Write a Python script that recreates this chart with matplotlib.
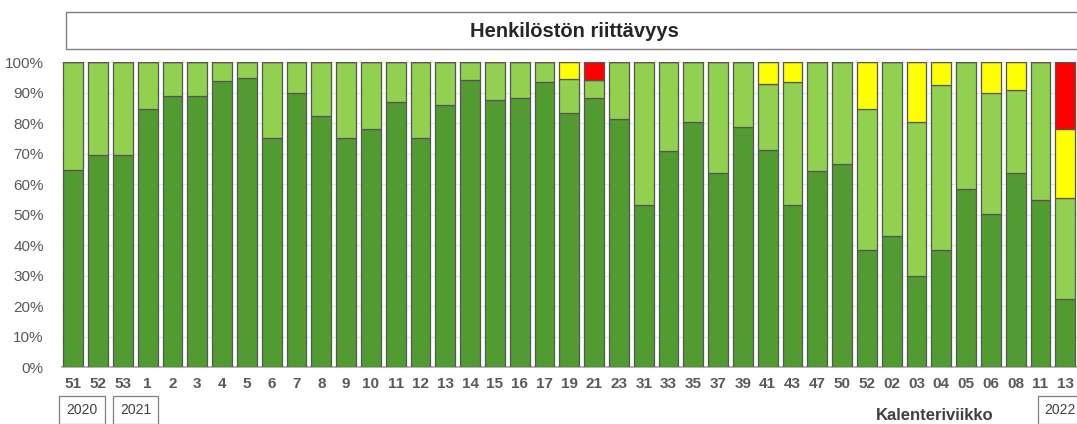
import matplotlib.pyplot as plt
from matplotlib.patches import Rectangle

weeks = ["51", "52", "53", "1", "2", "3", "4", "5", "6", "7", "8", "9", "10", "11",
         "12", "13", "14", "15", "16", "17", "19", "21", "23", "31", "33", "35", "37",
         "39", "41", "43", "47", "50", "52", "02", "03", "04", "05", "06", "08", "11", "13"]

# share of units (%), four staffing levels
enough = [64.7, 69.5, 69.5, 84.6, 89.1, 89.1, 94.0, 94.8, 75.2, 89.9, 82.5, 75.2, 78.1, 87.1,
          75.2, 86.0, 94.2, 87.6, 88.5, 93.6, 83.4, 88.4, 81.6, 53.3, 70.8, 80.4, 63.7,
          78.7, 71.4, 53.3, 64.4, 66.7, 38.4, 42.9, 29.8, 38.4, 58.4, 50.2, 63.8, 54.7, 22.4]
mostly = [35.3, 30.5, 30.5, 15.4, 10.9, 10.9, 6.0, 5.2, 24.8, 10.1, 17.5, 24.8, 21.9, 12.9,
          24.8, 14.0, 5.8, 12.4, 11.5, 6.4, 11.1, 5.8, 18.4, 46.7, 29.2, 19.6, 36.3,
          21.3, 21.6, 40.3, 35.6, 33.3, 46.2, 57.1, 50.6, 54.3, 41.6, 39.9, 27.2, 45.3, 33.0]
partly = [0, 0, 0, 0, 0, 0, 0, 0, 0, 0, 0, 0, 0, 0,
          0, 0, 0, 0, 0, 0, 5.5, 0, 0, 0, 0, 0, 0,
          0, 7.0, 6.4, 0, 0, 15.4, 0, 19.6, 7.3, 0, 9.9, 9.0, 0, 22.6]
lacking = [0, 0, 0, 0, 0, 0, 0, 0, 0, 0, 0, 0, 0, 0,
           0, 0, 0, 0, 0, 0, 0, 5.8, 0, 0, 0, 0, 0,
           0, 0, 0, 0, 0, 0, 0, 0, 0, 0, 0, 0, 0, 22.0]

years = ["2020", "2021", "2022"]
year_pos = [0.35, 2.5, 39.8]

colors = ["#519B30", "#92D050", "#FFFF00", "#FF0000"]
series = [enough, mostly, partly, lacking]

fig = plt.figure(figsize=(10.77, 4.24), dpi=100)
ax = fig.add_axes([0.0575, 0.1344, 0.9425, 0.7182])

x = list(range(len(weeks)))
bottom = [0.0] * len(weeks)
for vals, c in zip(series, colors):
    v = [a / 100 for a in vals]
    ax.bar(x, v, bottom=bottom, width=0.8, color=c, edgecolor="#555555",
           linewidth=0.9, zorder=3)
    bottom = [b + a for b, a in zip(bottom, v)]

ax.set_xlim(-0.46, len(weeks) - 0.53)
ax.set_ylim(0, 1.0)
ax.set_yticks([i / 10 for i in range(11)])
ax.set_yticklabels([f"{i * 10}%" for i in range(11)], fontsize=11,
                   color="#595959", family="Liberation Sans")
ax.set_xticks(x)
ax.set_xticklabels(weeks, fontsize=11, fontweight="bold", color="#595959",
                   family="Liberation Sans")
ax.tick_params(length=0, pad=7)
ax.tick_params(axis="y", pad=13)
ax.grid(axis="y", color="#e6e6e6", linewidth=0.8, zorder=0)
for s in ["top", "right", "left"]:
    ax.spines[s].set_visible(False)
ax.spines["bottom"].set_color("#a6a6a6")
ax.spines["bottom"].set_linewidth(1.2)

# year boxes under the week labels
for yr, p in zip(years, year_pos):
    ax.text(p, -0.142, yr, ha="center", va="center", fontsize=10, color="#404040",
            family="Liberation Sans", transform=ax.get_xaxis_transform(),
            bbox=dict(boxstyle="square,pad=0.5", fc="white", ec="#7f7f7f", lw=0.9))

fig.text(0.868, 0.003, "Kalenteriviikko", ha="center", va="bottom", fontsize=12,
         fontweight="bold", color="#404040", family="Liberation Sans")

# title box
fig.patches.append(Rectangle((0.0613, 0.884), 0.96, 0.0873, transform=fig.transFigure,
                             fc="white", ec="#7f7f7f", lw=1.0))
fig.text(0.533, 0.926, "Henkilöstön riittävyys", ha="center", va="center",
         fontsize=14.5, fontweight="bold", color="#262626",
         family=["Liberation Sans Narrow", "Liberation Sans"])

fig.savefig("out.png", dpi=100)
